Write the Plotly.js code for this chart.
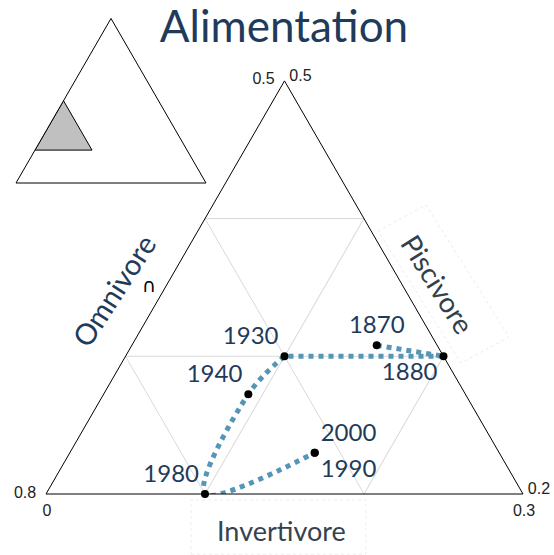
<!DOCTYPE html>
<html>
<head>
<meta charset="utf-8">
<script src="https://cdn.plot.ly/plotly-3.0.1.min.js"></script>
<style>html,body{margin:0;padding:0;background:#fff;}#chart{width:554px;height:555px;}</style>
</head>
<body>
<div id="chart"></div>
<script>
// Data (ternary components, sum = 1)
const years = ['1870', '1880', '1930', '1940', '1980', '1990', '2000'];
const piscivore = [0.308, 0.300, 0.300, 0.2725, 0.200, 0.230, 0.230];   // apex axis
const omnivore = [0.538, 0.500, 0.600, 0.6365, 0.700, 0.616, 0.616];   // bottom-left axis
const invertivore = [0.154, 0.200, 0.100, 0.091, 0.100, 0.154, 0.154]; // bottom-right axis
const labelPos = ['top center', 'bottom left', 'top left', 'top left', 'top left', 'bottom right', 'top right'];

// Path segments (index ranges into the arrays above) and their line shape
const segments = [[0, 1, 'linear'], [1, 2, 'linear'], [2, 6, 'spline']];

// Tick labels (relabelled to the component read along each edge)
const aTickVals = [0.2, 0.3, 0.4, 0.5];
const aTickText = ['0.8', '', '', '0.5'];
const bTickVals = [0.5, 0.6, 0.7, 0.8];
const bTickText = ['0.3', '', '', '0'];
const cTickVals = [0, 0.1, 0.2, 0.3];
const cTickText = ['0.5', '', '', '0.2'];

// Inset: zoomed region inside the full triangle
const insetA = [0.5, 0.2, 0.2, 0.5];
const insetB = [0.5, 0.8, 0.5, 0.5];
const insetC = [0.0, 0.0, 0.3, 0.0];

const navy = '#1f3b5c';
const W = 554, H = 555;
const px = x => x / W;
const py = y => 1 - y / H;

const traces = [
  {
    type: 'scatterternary', subplot: 'ternary2', mode: 'lines',
    a: insetA, b: insetB, c: insetC,
    fill: 'toself', fillcolor: '#c0c0c0',
    line: {color: '#000', width: 1},
    hoverinfo: 'skip'
  }
];
segments.forEach(([s, e, shape]) => {
  traces.push({
    type: 'scatterternary', subplot: 'ternary', mode: 'lines',
    a: piscivore.slice(s, e + 1), b: omnivore.slice(s, e + 1), c: invertivore.slice(s, e + 1),
    line: {color: '#5596b6', width: 5, dash: 'dot', shape: shape, smoothing: 1},
    hoverinfo: 'skip'
  });
});
traces.push({
  type: 'scatterternary', subplot: 'ternary', mode: 'markers+text',
  a: piscivore, b: omnivore, c: invertivore,
  text: years, textposition: labelPos,
  textfont: {family: 'Lato, "Open Sans", sans-serif', size: 24, color: navy},
  marker: {color: '#000', size: 8},
  hoverinfo: 'skip', cliponaxis: false
});

function axis(min, vals, txt, len) {
  return {
    min: min,
    title: {text: ''},
    tickmode: 'array', tickvals: vals, ticktext: txt,
    ticks: 'outside', ticklen: len, tickcolor: 'rgba(0,0,0,0)', showticklabels: true,
    tickfont: {family: 'Liberation Sans, Arial, sans-serif', size: 16, color: '#222'},
    showgrid: true, gridcolor: '#d9d9d9', gridwidth: 1,
    showline: true, linecolor: '#000', linewidth: 1
  };
}
function plainAxis() {
  return {
    min: 0, title: {text: ''}, ticks: '', showticklabels: false,
    showgrid: false, showline: true, linecolor: '#000', linewidth: 1
  };
}

const mainW = 477;
const mainH = mainW * Math.sqrt(3) / 2;
const mainBottom = 494;
const mainLeft = 46;

const insW = 190;
const insH = insW * Math.sqrt(3) / 2;
const insBottom = 183;
const insLeft = 16;

const layout = {
  width: W, height: H,
  margin: {l: 0, r: 0, t: 0, b: 0},
  paper_bgcolor: '#fff',
  showlegend: false,
  hovermode: false,
  title: {
    text: 'Alimentation',
    font: {family: 'Lato, "Open Sans", sans-serif', size: 44, color: navy},
    x: px(284), xanchor: 'center', y: py(27), yanchor: 'middle'
  },
  ternary: {
    sum: 1,
    domain: {x: [px(mainLeft), px(mainLeft + mainW)], y: [py(mainBottom), py(mainBottom - mainH)]},
    bgcolor: 'rgba(0,0,0,0)',
    aaxis: axis(0.2, aTickVals, aTickText, 7),
    baxis: axis(0.5, bTickVals, bTickText, 2),
    caxis: axis(0.0, cTickVals, cTickText, 4)
  },
  ternary2: {
    sum: 1,
    domain: {x: [px(insLeft), px(insLeft + insW)], y: [py(insBottom), py(insBottom - insH)]},
    bgcolor: '#fff',
    aaxis: plainAxis(), baxis: plainAxis(), caxis: plainAxis()
  },
  shapes: [
    {type: 'path', xref: 'paper', yref: 'paper',
     path: 'M' + px(378) + ',' + py(231) + ' L' + px(426) + ',' + py(205) + ' L' + px(509) + ',' + py(337) + ' L' + px(461) + ',' + py(363) + ' Z',
     line: {color: '#ececec', width: 1, dash: 'dot'}},
    {type: 'rect', xref: 'paper', yref: 'paper',
     x0: px(191), x1: px(366), y0: py(554), y1: py(500),
     line: {color: '#ececec', width: 1, dash: 'dot'}}
  ],
  annotations: [
    {text: 'Omnivore', xref: 'paper', yref: 'paper', x: px(113), y: py(290),
     showarrow: false, textangle: -57, xanchor: 'center', yanchor: 'middle',
     font: {family: 'Lato, "Open Sans", sans-serif', size: 29, color: navy}},
    {text: 'Piscivore', xref: 'paper', yref: 'paper', x: px(438), y: py(284),
     showarrow: false, textangle: 58, xanchor: 'center', yanchor: 'middle',
     font: {family: 'Lato, "Open Sans", sans-serif', size: 28, color: '#343f4c'}},
    {text: 'Invertivore', xref: 'paper', yref: 'paper', x: px(281), y: py(530),
     showarrow: false, xanchor: 'center', yanchor: 'middle',
     font: {family: 'Lato, "Open Sans", sans-serif', size: 27, color: '#37424f'}},
    {text: '∩', xref: 'paper', yref: 'paper', x: px(149), y: py(285),
     showarrow: false, xanchor: 'center', yanchor: 'middle',
     font: {family: 'DejaVu Sans, sans-serif', size: 19, color: '#000'}}
  ]
};

Plotly.newPlot('chart', traces, layout, {displayModeBar: false, staticPlot: true});
</script>
</body>
</html>
